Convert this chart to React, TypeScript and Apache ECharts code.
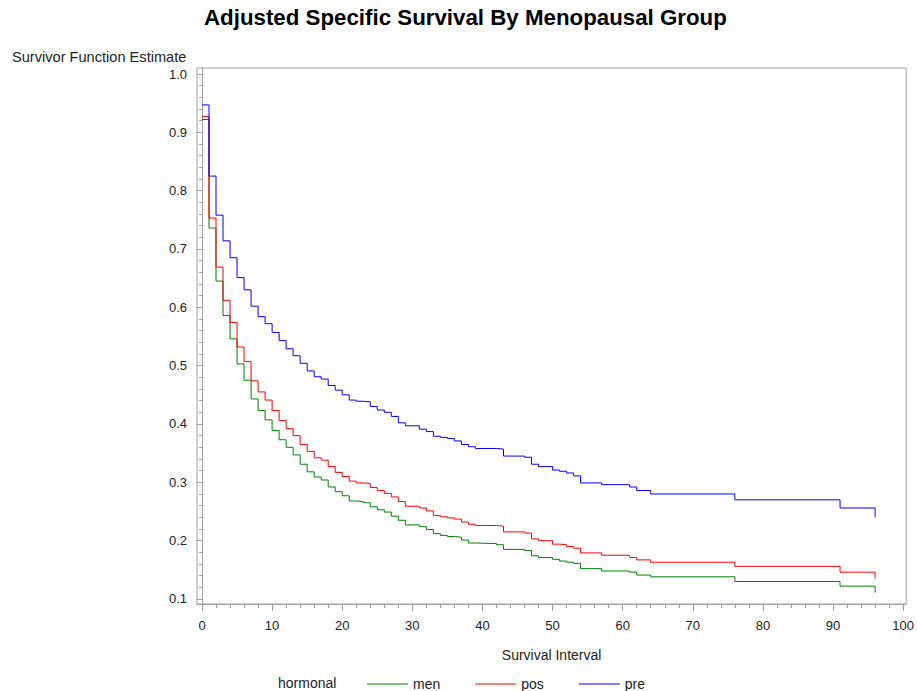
import React, { useEffect, useRef } from "react";
import * as echarts from "echarts";

// Survival interval (x) at which each step begins
const times = [
  0, 1, 2, 3, 4, 5, 6, 7, 8, 9,
  10, 11, 12, 13, 14, 15, 16, 17, 18, 19,
  20, 21, 22, 23, 24, 25, 26, 27, 28, 29,
  31, 32, 33, 34, 35, 36, 37, 38, 39,
  42, 43, 46, 47, 48, 50, 51, 52, 53, 54, 57, 61, 62, 64, 76, 91, 96,
];

const men = [
  0.922, 0.736, 0.645, 0.586, 0.546, 0.503, 0.475, 0.443, 0.423, 0.407,
  0.389, 0.373, 0.36, 0.347, 0.331, 0.318, 0.309, 0.304, 0.292, 0.284,
  0.277, 0.268, 0.267, 0.265, 0.258, 0.253, 0.249, 0.242, 0.235, 0.227,
  0.224, 0.219, 0.212, 0.209, 0.207, 0.206, 0.201, 0.196, 0.195,
  0.193, 0.185, 0.183, 0.174, 0.171, 0.168, 0.165, 0.163, 0.161, 0.152, 0.148, 0.146, 0.141, 0.138, 0.13, 0.122, 0.111,
];

const pos = [
  0.927, 0.753, 0.669, 0.612, 0.574, 0.532, 0.507, 0.474, 0.455, 0.441,
  0.423, 0.406, 0.392, 0.38, 0.365, 0.353, 0.342, 0.338, 0.327, 0.317,
  0.31, 0.302, 0.299, 0.298, 0.291, 0.286, 0.281, 0.275, 0.267, 0.259,
  0.256, 0.251, 0.243, 0.241, 0.239, 0.237, 0.232, 0.228, 0.226,
  0.225, 0.215, 0.213, 0.203, 0.2, 0.194, 0.193, 0.19, 0.187, 0.179, 0.175, 0.171, 0.167, 0.163, 0.156, 0.146, 0.135,
];

const pre = [
  0.947, 0.825, 0.758, 0.714, 0.685, 0.651, 0.63, 0.602, 0.584, 0.572,
  0.557, 0.543, 0.529, 0.517, 0.504, 0.491, 0.481, 0.477, 0.466, 0.458,
  0.45, 0.441, 0.439, 0.438, 0.43, 0.424, 0.42, 0.413, 0.402, 0.397,
  0.391, 0.387, 0.379, 0.377, 0.375, 0.371, 0.365, 0.361, 0.358,
  0.357, 0.345, 0.343, 0.331, 0.327, 0.321, 0.319, 0.316, 0.311, 0.299, 0.296, 0.292, 0.286, 0.28, 0.27, 0.256, 0.24,
];

const xTicks = [0, 10, 20, 30, 40, 50, 60, 70, 80, 90, 100];
const yTicks = [0.1, 0.2, 0.3, 0.4, 0.5, 0.6, 0.7, 0.8, 0.9, 1.0];

const FONT = "'Liberation Sans', Arial, sans-serif";
const AXIS_GRAY = "#a0a0a0";
const TEXT = "#222";

export default function App() {
  const ref = useRef<HTMLDivElement>(null);

  useEffect(() => {
    if (!ref.current) return;
    const chart = echarts.init(ref.current, undefined, { renderer: "svg" });

    const xMinor: number[] = [];
    for (let v = 0; v <= 100; v += 2) if (v % 10 !== 0) xMinor.push(v);
    const yMinor: number[] = [];
    for (let k = 5; k <= 50; k++) if (k % 5 !== 0) yMinor.push(+(k * 0.02).toFixed(2));

    const xMin = -0.711;
    const xMax = 100.43;
    const yMin = 0.0914;
    const yMax = 1.0103;

    const mk = (vals: number[]) => times.map((t, i) => [t, vals[i]]);

    const baseX = {
      type: "value",
      min: xMin,
      max: xMax,
      gridIndex: 0,
      position: "bottom",
      splitLine: { show: false },
    };
    const baseY = {
      type: "value",
      min: yMin,
      max: yMax,
      gridIndex: 0,
      position: "left",
      splitLine: { show: false },
    };

    chart.setOption({
      animation: false,
      backgroundColor: "#fff",
      title: {
        text: "Adjusted Specific Survival By Menopausal Group",
        left: 204,
        top: 6,
        padding: 0,
        textStyle: { fontFamily: FONT, fontSize: 22.3, fontWeight: "bold", color: "#000" },
      },
      grid: {
        left: 197,
        top: 68,
        right: 9,
        bottom: 87,
        show: true,
        borderColor: AXIS_GRAY,
        borderWidth: 1,
        backgroundColor: "transparent",
      },
      xAxis: [
        {
          ...baseX,
          name: "Survival Interval",
          nameLocation: "middle",
          nameGap: 44,
          nameTextStyle: { fontFamily: FONT, fontSize: 14, color: TEXT },
          axisLine: { show: true, lineStyle: { color: AXIS_GRAY, width: 1 } },
          axisTick: { show: true, customValues: xTicks, length: 7, lineStyle: { color: AXIS_GRAY } },
          axisLabel: {
            show: true,
            customValues: xTicks,
            margin: 15,
            fontFamily: FONT,
            fontSize: 13,
            color: TEXT,
            formatter: (v: number) => String(Math.round(v)),
          },
        },
        {
          ...baseX,
          axisLine: { show: false },
          axisTick: { show: true, customValues: xMinor, length: 4, lineStyle: { color: AXIS_GRAY } },
          axisLabel: { show: false },
        },
      ],
      yAxis: [
        {
          ...baseY,
          axisLine: { show: true, lineStyle: { color: AXIS_GRAY, width: 1 } },
          axisTick: { show: true, customValues: yTicks, length: 5, lineStyle: { color: AXIS_GRAY } },
          axisLabel: {
            show: true,
            customValues: yTicks,
            margin: 10,
            fontFamily: FONT,
            fontSize: 13,
            color: TEXT,
            formatter: (v: number) => v.toFixed(1),
          },
        },
        {
          ...baseY,
          axisLine: { show: false },
          axisTick: { show: true, customValues: yMinor, length: 3, lineStyle: { color: AXIS_GRAY } },
          axisLabel: { show: false },
        },
      ],
      legend: {
        data: ["men", "pos", "pre"],
        left: 362,
        top: 672,
        icon: "rect",
        itemWidth: 41,
        itemHeight: 1,
        itemGap: 35,
        textStyle: { fontFamily: FONT, fontSize: 14, lineHeight: 14, color: TEXT },
      },
      graphic: [
        {
          type: "text",
          left: 12,
          top: 49,
          style: { text: "Survivor Function Estimate", font: `14.6px ${FONT}`, fill: TEXT },
        },
        {
          type: "text",
          left: 278,
          top: 676,
          style: { text: "hormonal", font: `14px ${FONT}`, fill: TEXT },
        },
      ],
      series: [
        {
          name: "men",
          type: "line",
          step: "end",
          symbol: "none",
          xAxisIndex: 0,
          yAxisIndex: 0,
          color: "#008000",
          lineStyle: { width: 1, color: "#008000" },
          data: mk(men),
        },
        {
          name: "pos",
          type: "line",
          step: "end",
          symbol: "none",
          xAxisIndex: 0,
          yAxisIndex: 0,
          color: "#ff0000",
          lineStyle: { width: 1, color: "#ff0000" },
          data: mk(pos),
        },
        {
          name: "pre",
          type: "line",
          step: "end",
          symbol: "none",
          xAxisIndex: 0,
          yAxisIndex: 0,
          color: "#0000ff",
          lineStyle: { width: 1, color: "#0000ff" },
          data: mk(pre),
        },
      ],
    });

    return () => chart.dispose();
  }, []);

  return (
    <div
      ref={ref}
      style={{ position: "fixed", left: 0, top: 0, width: 917, height: 691, background: "#fff" }}
    />
  );
}
